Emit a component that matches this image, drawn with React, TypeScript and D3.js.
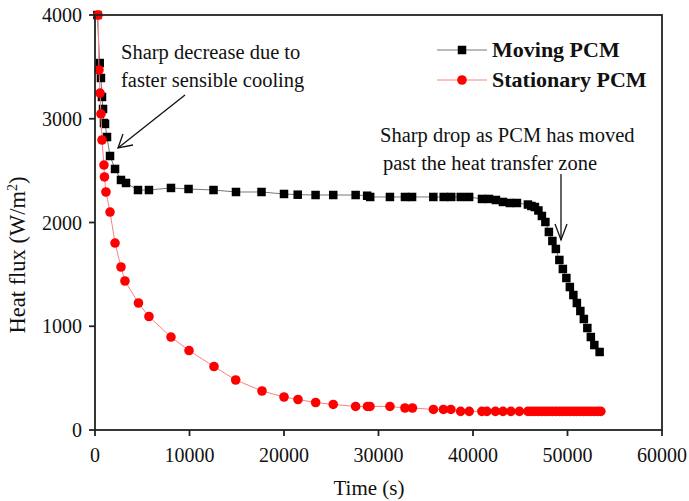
import React from "react";
import * as d3 from "d3";

// ---- data ----
const movingTime = [250, 500, 630, 740, 850, 950, 1060, 1270, 1590, 2120, 2750, 3280, 4550, 5710, 8040, 9900, 12540, 14920, 17620, 20000, 21450, 23340, 25210, 27580, 28800, 29120, 31210, 32800, 33550, 35800, 36900, 37700, 38700, 39590, 40950, 41690, 42430, 43170, 43910, 44650, 45810, 46180, 46550, 46920, 47290, 47660, 48030, 48400, 48770, 49140, 49510, 49880, 50250, 50620, 50990, 51360, 51730, 52100, 52470, 52840, 53400];
const movingFlux = [4000, 3537, 3393, 3210, 3094, 2959, 2950, 2824, 2641, 2516, 2410, 2381, 2313, 2313, 2333, 2323, 2313, 2294, 2294, 2275, 2268, 2265, 2265, 2265, 2258, 2246, 2246, 2246, 2246, 2246, 2246, 2246, 2246, 2246, 2227, 2227, 2217, 2198, 2188, 2188, 2173, 2159, 2149, 2116, 2063, 2005, 1909, 1822, 1745, 1639, 1552, 1465, 1378, 1301, 1224, 1147, 1070, 983, 896, 819, 752];

const stationaryTime = [320, 420, 530, 630, 740, 950, 1000, 1160, 1590, 2120, 2750, 3170, 4600, 5710, 8040, 9950, 12590, 14890, 17670, 20000, 21480, 23350, 25210, 27580, 28830, 29100, 31210, 32800, 33590, 35810, 36870, 37660, 38690, 39600, 40940, 41470, 42370, 43170, 44010, 44910, 45810, 46180, 46550, 46920, 47290, 47660, 48030, 48400, 48770, 49140, 49510, 49880, 50250, 50620, 50990, 51360, 51730, 52100, 52470, 52840, 53210, 53530];
const stationaryFlux = [4000, 3470, 3248, 3046, 2795, 2554, 2439, 2294, 2101, 1802, 1571, 1436, 1224, 1094, 896, 766, 612, 482, 376, 318, 294, 265, 246, 227, 227, 227, 227, 212, 212, 198, 198, 198, 180, 180, 180, 180, 180, 180, 180, 180, 180, 180, 180, 180, 180, 180, 180, 180, 180, 180, 180, 180, 180, 180, 180, 180, 180, 180, 180, 180, 180, 180];

const xTicks = [0, 10000, 20000, 30000, 40000, 50000, 60000];
const yTicks = [0, 1000, 2000, 3000, 4000];
const seriesNames = ["Moving PCM", "Stationary PCM"];
const xTitle = "Time (s)";
const note1 = ["Sharp decrease due to", "faster sensible cooling"];
const note2 = ["Sharp drop as PCM has moved", "past the heat transfer zone"];

const W = 689;
const H = 501;
const left = 95, right = 662, top = 15, bottom = 430;
const serif = "'Liberation Serif', 'Times New Roman', serif";

export default function App() {
  const x = d3.scaleLinear().domain([0, 60000]).range([left, right]);
  const y = d3.scaleLinear().domain([0, 4000]).range([bottom, top]);

  const moving = movingTime.map((t, i) => [t, movingFlux[i]] as [number, number]);
  const stationary = stationaryTime.map((t, i) => [t, stationaryFlux[i]] as [number, number]);
  const line = d3.line<[number, number]>().x(d => x(d[0])).y(d => y(d[1]));

  const sq = 8.5;
  const r = 4.8;

  return (
    <svg width={W} height={H} style={{ position: "absolute", left: 0, top: 0, background: "#fff" }} fontFamily={serif}>
      <rect x={0} y={0} width={W} height={H} fill="#fff" />
      {/* series */}
      <path d={line(moving) || ""} fill="none" stroke="#777" strokeWidth={1} />
      {moving.map((d, i) => (
        <rect key={"m" + i} x={x(d[0]) - sq / 2} y={y(d[1]) - sq / 2} width={sq} height={sq} fill="#000" />
      ))}
      <path d={line(stationary) || ""} fill="none" stroke="#ff8080" strokeWidth={1} />
      {stationary.map((d, i) => (
        <circle key={"s" + i} cx={x(d[0])} cy={y(d[1])} r={r} fill="#ff0000" />
      ))}

      {/* frame */}
      <rect x={left} y={top} width={right - left} height={bottom - top} fill="none" stroke="#222" strokeWidth={1.8} />
      {xTicks.map(t => (
        <g key={"xt" + t}>
          <line x1={x(t)} x2={x(t)} y1={bottom} y2={bottom + 6} stroke="#222" strokeWidth={1.8} />
          <text x={x(t)} y={bottom + 32} textAnchor="middle" fontSize={20} fill="#111">{t}</text>
        </g>
      ))}
      {yTicks.map(t => (
        <g key={"yt" + t}>
          <line x1={left - 6} x2={left} y1={y(t)} y2={y(t)} stroke="#222" strokeWidth={1.8} />
          <text x={left - 13} y={y(t) + 7} textAnchor="end" fontSize={20} fill="#111">{t}</text>
        </g>
      ))}

      {/* axis titles */}
      <text x={369} y={495} textAnchor="middle" fontSize={21} fill="#111">{xTitle}</text>
      <text transform={`translate(25, 255) rotate(-90)`} textAnchor="middle" fontSize={22.5} fill="#111">
        Heat flux (W/m<tspan dy={-8} fontSize={14}>2</tspan><tspan dy={8}>)</tspan>
      </text>

      {/* legend */}
      <line x1={437} x2={487} y1={50} y2={50} stroke="#777" strokeWidth={1} />
      <rect x={462 - sq / 2} y={50 - sq / 2} width={sq} height={sq} fill="#000" />
      <text x={492} y={57} fontSize={22} fontWeight="bold" fill="#111">{seriesNames[0]}</text>
      <line x1={437} x2={487} y1={80} y2={80} stroke="#ff8080" strokeWidth={1} />
      <circle cx={462} cy={80} r={r} fill="#ff0000" />
      <text x={492} y={87} fontSize={22} fontWeight="bold" fill="#111">{seriesNames[1]}</text>

      {/* annotation 1 */}
      <text x={121} y={59} fontSize={20.5} fill="#111">{note1[0]}</text>
      <text x={121} y={87} fontSize={20.5} fill="#111">{note1[1]}</text>
      <line x1={185} y1={95} x2={118} y2={148} stroke="#111" strokeWidth={1.3} />
      <polyline points={`${118 + 15},${148 - 3} 118,148 ${118 + 5},${148 - 14}`} fill="none" stroke="#111" strokeWidth={1.3} />

      {/* annotation 2 */}
      <text x={380} y={142} fontSize={20.5} fill="#111">{note2[0]}</text>
      <text x={383} y={170} fontSize={20.5} fill="#111">{note2[1]}</text>
      <line x1={561} y1={174} x2={561} y2={240} stroke="#111" strokeWidth={1.3} />
      <polyline points={`555,224 561,240 567,224`} fill="none" stroke="#111" strokeWidth={1.3} />
    </svg>
  );
}
